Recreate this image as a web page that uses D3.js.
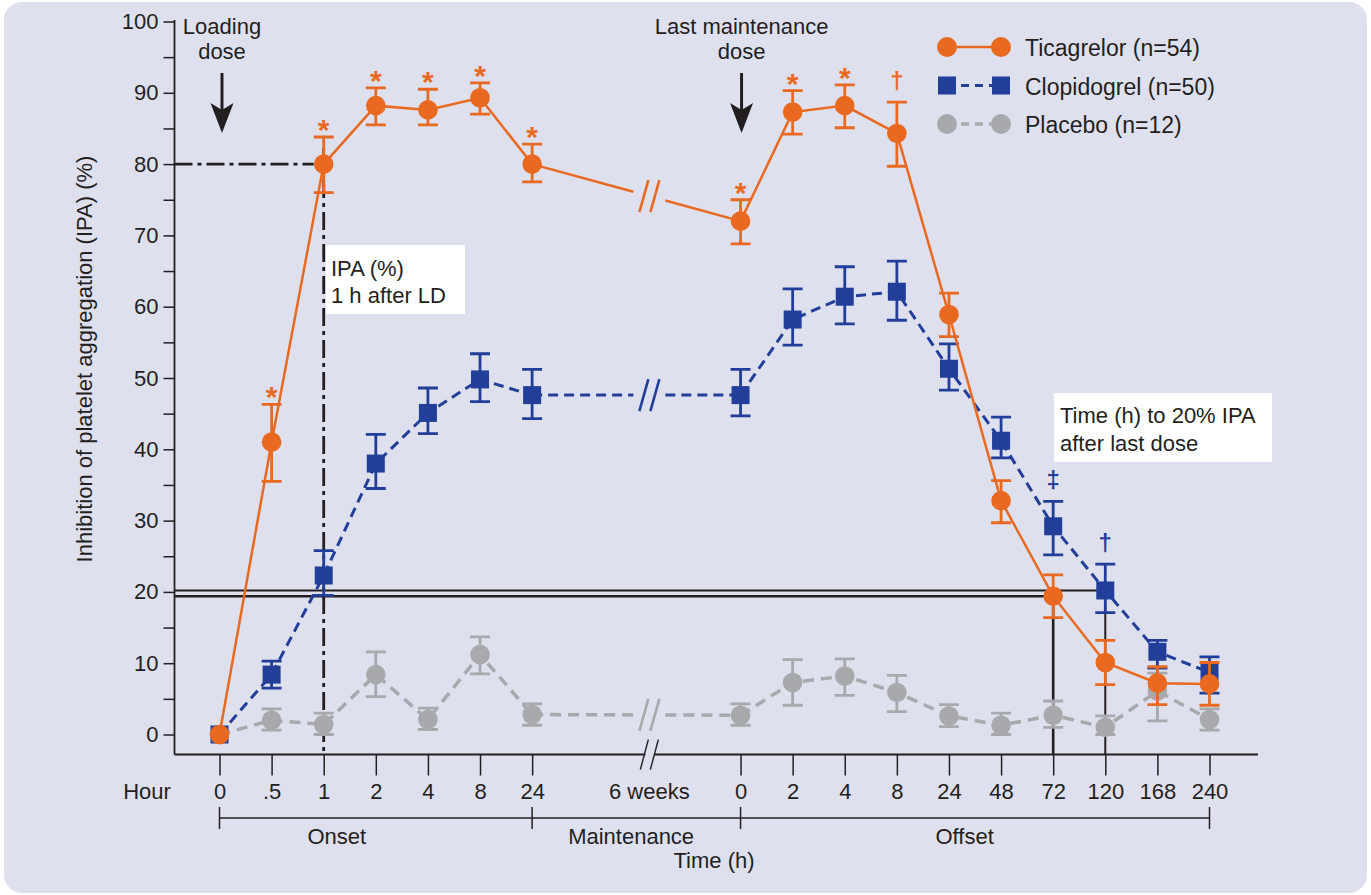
<!DOCTYPE html>
<html>
<head>
<meta charset="utf-8">
<script src="https://cdn.jsdelivr.net/npm/d3@7"></script>
<style>
  body { margin: 0; background: #fff; }
  text { font-family: "Liberation Sans", Arial, sans-serif; fill: #231f20; }
</style>
</head>
<body>
<div id="chart-area"></div>
<script>
// Data (IPA %)
const hours = ["0", ".5", "1", "2", "4", "8", "24", "0", "2", "4", "8", "24", "48", "72", "120", "168", "240"];

const ticMean = [0, 41.0, 80.0, 88.2, 87.6, 89.3, 80.0, 72.0, 87.3, 88.2, 84.3, 58.9, 32.8, 19.4, 10.1, 7.2, 7.1];
const ticHi   = [null, 46.3, 83.8, 90.7, 90.5, 91.4, 82.8, 75.0, 90.3, 91.1, 88.7, 61.9, 35.6, 22.4, 13.2, 9.5, 10.1];
const ticLo   = [null, 35.5, 76.0, 85.5, 85.5, 87.0, 77.5, 68.8, 84.2, 85.1, 79.7, 55.8, 29.7, 16.4, 7.0, 4.2, 4.1];
const ticSig  = ["", "*", "*", "*", "*", "*", "*", "*", "*", "*", "\u2020", "", "", "", "", "", ""];

const clopMean = [0, 8.4, 22.3, 38.0, 45.1, 49.8, 47.6, 47.6, 58.2, 61.4, 62.1, 51.3, 41.2, 29.2, 20.2, 11.6, 8.7];
const clopHi   = [null, 10.3, 25.8, 42.1, 48.6, 53.4, 51.2, 51.2, 62.5, 65.6, 66.4, 54.8, 44.5, 32.7, 23.9, 13.2, 10.9];
const clopLo   = [null, 6.5, 19.5, 34.5, 42.2, 46.7, 44.3, 44.7, 54.6, 57.6, 58.1, 48.3, 38.8, 25.2, 17.1, 9.3, 5.8];
const clopSig  = ["", "", "", "", "", "", "", "", "", "", "", "", "", "\u2021", "\u2020", "", ""];

const placMean = [0, 2.0, 1.4, 8.4, 2.1, 11.2, 2.8, 2.7, 7.3, 8.2, 5.9, 2.6, 1.3, 2.7, 1.0, 6.1, 2.1];
const placHi   = [null, 3.6, 3.0, 11.6, 3.7, 13.7, 4.3, 4.3, 10.5, 10.6, 8.3, 4.2, 3.0, 4.7, 2.6, 8.6, 3.6];
const placLo   = [null, 0.6, 0.0, 5.3, 0.7, 8.5, 1.3, 1.3, 4.1, 5.5, 3.2, 1.1, 0.0, 1.0, 0.0, 1.9, 0.6];

const seriesNames = ["Ticagrelor (n=54)", "Clopidogrel (n=50)", "Placebo (n=12)"];
const yTicks = d3.range(0, 101, 5);

// Style
const orange = "#e8691f", blue = "#213f99", grey = "#a8a9ac", ink = "#231f20", panel = "#dfe0ee";

const W = 1371, H = 895;
const svg = d3.select("#chart-area").append("svg")
    .attr("width", W).attr("height", H);

svg.append("rect")
    .attr("x", 4).attr("y", 2).attr("width", 1363).attr("height", 891)
    .attr("rx", 18).attr("fill", panel);

// slot on the x axis: break takes two empty slots after "24"
const slotOf = i => i < 7 ? i : i + 3;
const breakSlot = 8.25;

const x = d3.scaleLinear().domain([0, 19]).range([219.5, 1209.5]);
const y = d3.scaleLinear().domain([0, 100]).range([734.5, 21.5]);
const axisX = 174.5, axisY = 754.5;

const build = (mean, hi, lo, sig) => mean.map((m, i) => ({ slot: slotOf(i), v: m, hi: hi[i], lo: lo[i], sig: sig[i] }));
const series = [
  { name: seriesNames[2], color: grey, dash: "11,7", width: 3.5, shape: "circle", rows: build(placMean, placHi, placLo, []) },
  { name: seriesNames[1], color: blue, dash: "10,6", width: 3, shape: "square", rows: build(clopMean, clopHi, clopLo, clopSig) },
  { name: seriesNames[0], color: orange, dash: null, width: 2.5, shape: "circle", rows: build(ticMean, ticHi, ticLo, ticSig) }
];

// Y axis
const yAxis = svg.append("g")
    .attr("transform", `translate(${axisX},0)`)
    .call(d3.axisLeft(y).tickValues(yTicks).tickSize(11).tickPadding(5).tickSizeOuter(0)
        .tickFormat(d => d % 10 === 0 ? d : ""));
yAxis.select(".domain").remove();
yAxis.selectAll("line").attr("stroke", ink).attr("stroke-width", 1.5);
yAxis.selectAll("text").attr("font-size", 22).attr("fill", ink).style("font-family", null);
svg.append("line").attr("x1", axisX).attr("x2", axisX).attr("y1", 20).attr("y2", axisY)
    .attr("stroke", ink).attr("stroke-width", 1.8);

svg.append("text")
    .attr("transform", `translate(84,${(y(100) + axisY) / 2 - 29}) rotate(-90)`)
    .attr("text-anchor", "middle").attr("dominant-baseline", "central")
    .attr("font-size", 22)
    .text("Inhibition of platelet aggregation (IPA) (%)");

// X axis with break
const bx = x(breakSlot);
svg.append("line").attr("x1", axisX).attr("x2", bx - 4).attr("y1", axisY).attr("y2", axisY)
    .attr("stroke", ink).attr("stroke-width", 1.8);
svg.append("line").attr("x1", bx + 5).attr("x2", 1258).attr("y1", axisY).attr("y2", axisY)
    .attr("stroke", ink).attr("stroke-width", 1.8);
[-5, 5].forEach(o => {
  svg.append("line")
      .attr("x1", bx + o - 4).attr("y1", axisY + 15).attr("x2", bx + o + 4).attr("y2", axisY - 15)
      .attr("stroke", ink).attr("stroke-width", 1.4);
});

const xAxis = svg.append("g")
    .attr("transform", `translate(0,${axisY})`)
    .call(d3.axisBottom(x).tickValues(hours.map((h, i) => slotOf(i))).tickSize(21).tickPadding(8)
        .tickFormat((d, i) => hours[i]));
xAxis.select(".domain").remove();
xAxis.selectAll("line").attr("stroke", ink).attr("stroke-width", 1.5);
xAxis.selectAll("text").attr("font-size", 22).attr("fill", ink).style("font-family", null);

svg.append("text").attr("x", 147).attr("y", 791).attr("text-anchor", "middle")
    .attr("dominant-baseline", "central").attr("font-size", 22).text("Hour");
svg.append("text").attr("x", bx).attr("y", 791).attr("text-anchor", "middle")
    .attr("dominant-baseline", "central").attr("font-size", 22).text("6 weeks");

// phase bracket
const bracketY = 818;
svg.append("line").attr("x1", x(0)).attr("x2", x(19)).attr("y1", bracketY).attr("y2", bracketY)
    .attr("stroke", ink).attr("stroke-width", 1.5);
[0, 6, 10, 19].forEach(s => {
  svg.append("line").attr("x1", x(s)).attr("x2", x(s)).attr("y1", bracketY - 11).attr("y2", bracketY + 11)
      .attr("stroke", ink).attr("stroke-width", 1.5);
});
[["Onset", 2.25], ["Maintenance", 7.9], ["Offset", 14.3]].forEach(([t, s]) => {
  svg.append("text").attr("x", x(s)).attr("y", 836).attr("text-anchor", "middle")
      .attr("dominant-baseline", "central").attr("font-size", 22).text(t);
});
svg.append("text").attr("x", 714).attr("y", 860).attr("text-anchor", "middle")
    .attr("dominant-baseline", "central").attr("font-size", 22).text("Time (h)");

// Reference lines: 80% at 1 h (dash-dot), 20% crossings
const tic1h = series[2].rows[2];
svg.append("path")
    .attr("d", `M${axisX},${y(tic1h.v)}H${x(tic1h.slot) - 10}M${x(tic1h.slot)},${y(tic1h.v) - 16}V${axisY}`)
    .attr("fill", "none").attr("stroke", ink).attr("stroke-width", 2.8).attr("stroke-dasharray", "18,5,4,5");

const ticCross = series[2].rows[13], clopCross = series[1].rows[14];
svg.append("path")
    .attr("d", `M${axisX},${y(clopCross.v)}H${x(clopCross.slot)}V${axisY}`)
    .attr("fill", "none").attr("stroke", ink).attr("stroke-width", 2);
svg.append("path")
    .attr("d", `M${axisX},${y(ticCross.v)}H${x(ticCross.slot)}V${axisY}`)
    .attr("fill", "none").attr("stroke", ink).attr("stroke-width", 2.6);

// Text boxes
svg.append("rect").attr("x", 326).attr("y", 245).attr("width", 139).attr("height", 69).attr("fill", "#fff");
svg.append("text").attr("x", 331).attr("y", 268).attr("dominant-baseline", "central").attr("font-size", 22).text("IPA (%)");
svg.append("text").attr("x", 331).attr("y", 295).attr("dominant-baseline", "central").attr("font-size", 22).text("1 h after LD");

svg.append("rect").attr("x", 1054).attr("y", 393).attr("width", 218).attr("height", 69).attr("fill", "#fff");
svg.append("text").attr("x", 1060).attr("y", 415).attr("dominant-baseline", "central").attr("font-size", 22).text("Time (h) to 20% IPA");
svg.append("text").attr("x", 1060).attr("y", 443).attr("dominant-baseline", "central").attr("font-size", 22).text("after last dose");

// Dose arrows
[[x(0) + 2.5, ["Loading", "dose"]], [x(10) + 1, ["Last maintenance", "dose"]]].forEach(([ax, lines]) => {
  lines.forEach((t, k) => {
    svg.append("text").attr("x", ax).attr("y", 26 + k * 25).attr("text-anchor", "middle")
        .attr("dominant-baseline", "central").attr("font-size", 22).text(t);
  });
  svg.append("line").attr("x1", ax).attr("x2", ax).attr("y1", 73).attr("y2", 112)
      .attr("stroke", ink).attr("stroke-width", 3);
  svg.append("path")
      .attr("d", `M${ax - 11.5},${103}L${ax},${133}L${ax + 11.5},${103}L${ax},${110}Z`)
      .attr("fill", ink);
});

// Series
const line = d3.line().x(d => x(d.slot)).y(d => y(d.v));
const gapHalf = 16;

function drawMarker(g, shape, color, cx, cy, big) {
  if (shape === "circle") {
    g.append("circle").attr("cx", cx).attr("cy", cy).attr("r", big ? 10 : 9.8).attr("fill", color);
  } else {
    g.append("rect").attr("x", cx - 9).attr("y", cy - 9).attr("width", 18).attr("height", 18).attr("fill", color);
  }
}

series.forEach(s => {
  const g = svg.append("g");
  const rows = s.rows;
  const styleLine = p => p.attr("fill", "none").attr("stroke", s.color).attr("stroke-width", s.width)
      .attr("stroke-dasharray", s.dash);

  // lines before and after the break
  styleLine(g.append("path").attr("d", line(rows.slice(0, 7))));
  styleLine(g.append("path").attr("d", line(rows.slice(7))));

  // bridge across the break, with a gap and "//"
  const a = rows[6], b = rows[7];
  const ax0 = x(a.slot), ay0 = y(a.v), bx0 = x(b.slot), by0 = y(b.v);
  const yAt = px => ay0 + (by0 - ay0) * (px - ax0) / (bx0 - ax0);
  styleLine(g.append("path").attr("d", `M${ax0},${ay0}L${bx - gapHalf},${yAt(bx - gapHalf)}`));
  styleLine(g.append("path").attr("d", `M${bx + gapHalf},${yAt(bx + gapHalf)}L${bx0},${by0}`));
  const yb = yAt(bx);
  [-5.5, 5.5].forEach(o => {
    g.append("line").attr("x1", bx + o - 4.5).attr("y1", yb + 16).attr("x2", bx + o + 4.5).attr("y2", yb - 16)
        .attr("stroke", s.color).attr("stroke-width", 2.6);
  });

  // error bars
  rows.filter(d => d.hi != null).forEach(d => {
    const cx = x(d.slot);
    g.append("path")
        .attr("d", `M${cx},${y(d.lo)}V${y(d.hi)}M${cx - 10},${y(d.hi)}H${cx + 10}M${cx - 10},${y(d.lo)}H${cx + 10}`)
        .attr("fill", "none").attr("stroke", s.color).attr("stroke-width", 2.8);
  });

  // markers
  rows.forEach(d => drawMarker(g, s.shape, s.color, x(d.slot), y(d.v), false));

  // significance symbols
  rows.filter(d => d.sig).forEach(d => {
    const isStar = d.sig === "*";
    g.append("text")
        .attr("x", x(d.slot)).attr("y", isStar ? y(d.hi) + 3 : y(d.hi) - 13)
        .attr("text-anchor", "middle")
        .attr("font-size", isStar ? 30 : 24).attr("font-weight", "bold")
        .style("fill", s.color).text(d.sig);
  });
});

// Legend
const legend = svg.append("g");
[series[2], series[1], series[0]].forEach((s, i) => {
  const ly = 47 + i * 38.5;
  legend.append("line").attr("x1", 947).attr("x2", 1001).attr("y1", ly).attr("y2", ly)
      .attr("stroke", s.color).attr("stroke-width", s.width).attr("stroke-dasharray", s.dash ? "8,6" : null);
  drawMarker(legend, s.shape, s.color, 947, ly, true);
  drawMarker(legend, s.shape, s.color, 1001, ly, true);
  legend.append("text").attr("x", 1025).attr("y", ly + 1).attr("dominant-baseline", "central")
      .attr("font-size", 23).text(s.name);
});
</script>
</body>
</html>
